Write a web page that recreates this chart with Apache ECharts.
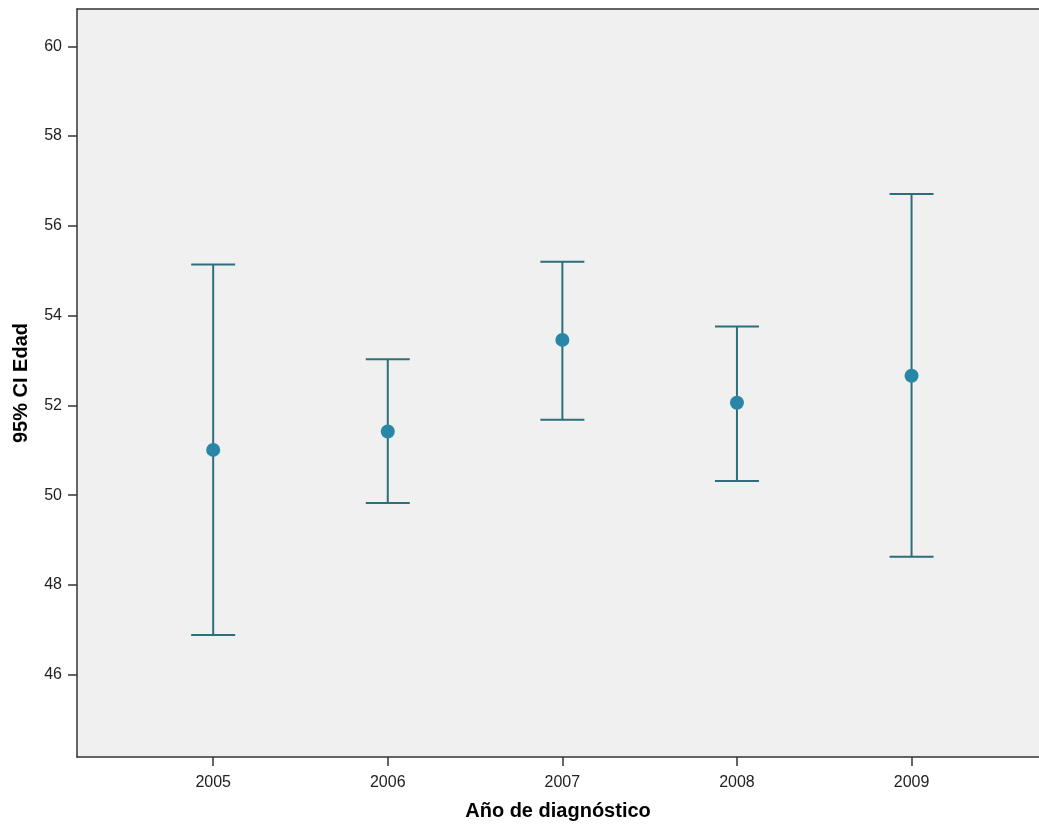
<!DOCTYPE html>
<html>
<head>
<meta charset="utf-8">
<script src="https://cdn.jsdelivr.net/npm/echarts@6/dist/echarts.min.js"></script>
<style>
  html, body { margin: 0; padding: 0; background: #ffffff; }
  #chart { width: 1039px; height: 839px; }
</style>
</head>
<body>
<div id="chart"></div>
<script>
// Years of diagnosis and the 95% confidence interval of age for each one
const years = [2005, 2006, 2007, 2008, 2009];
const meanAge = [51.01, 51.42, 53.46, 52.06, 52.66];
const lowerCI = [46.89, 49.83, 51.68, 50.32, 48.63];
const upperCI = [55.14, 53.03, 55.20, 53.76, 56.71];
const yTicks = [46, 48, 50, 52, 54, 56, 58, 60];

const FONT = '"Liberation Sans", Arial, sans-serif';
const BAR_COLOR = '#2c6e79';
const DOT_COLOR = '#2886a6';
const AXIS_COLOR = '#333333';
const CAP_HALF = 22;

const barData = years.map((y, i) => [y, lowerCI[i], upperCI[i]]);
const dotData = years.map((y, i) => [y, meanAge[i]]);

const chart = echarts.init(document.getElementById('chart'), null, { renderer: 'canvas' });

const axisLineStyle = { color: AXIS_COLOR, width: 1.5 };

chart.setOption({
  animation: false,
  backgroundColor: '#ffffff',
  grid: {
    left: 77, right: 0, top: 9, bottom: 82,
    show: true,
    backgroundColor: '#f0f0f0',
    borderWidth: 0
  },
  xAxis: [
    {
      type: 'value',
      min: 2004.22,
      max: 2009.73,
      name: 'Año de diagnóstico',
      nameLocation: 'middle',
      nameGap: 44,
      nameTextStyle: { fontFamily: FONT, fontSize: 20, fontWeight: 'bold', color: '#000000' },
      axisLine: { show: true, lineStyle: axisLineStyle },
      axisTick: { show: true, length: 9, customValues: years, lineStyle: axisLineStyle },
      axisLabel: {
        customValues: years,
        formatter: v => String(v),
        fontFamily: FONT, fontSize: 16, color: '#222222', margin: 18
      },
      splitLine: { show: false }
    },
    {
      // top edge of the frame
      type: 'value',
      position: 'top',
      min: 2004.22,
      max: 2009.73,
      axisLine: { show: true, onZero: false, lineStyle: axisLineStyle },
      axisTick: { show: false },
      axisLabel: { show: false },
      splitLine: { show: false }
    }
  ],
  yAxis: {
    type: 'value',
    min: 44.17,
    max: 60.83,
    name: '95% CI Edad',
    nameLocation: 'middle',
    nameGap: 46,
    nameRotate: 90,
    nameTextStyle: { fontFamily: FONT, fontSize: 20, fontWeight: 'bold', color: '#000000' },
    axisLine: { show: true, lineStyle: axisLineStyle },
    axisTick: { show: true, length: 9, customValues: yTicks, lineStyle: axisLineStyle },
    axisLabel: {
      customValues: yTicks,
      formatter: v => String(v),
      fontFamily: FONT, fontSize: 16, color: '#222222', margin: 15
    },
    splitLine: { show: false }
  },
  series: [
    {
      type: 'custom',
      name: 'IC 95%',
      data: barData,
      encode: { x: 0, y: [1, 2] },
      renderItem: function (params, api) {
        const x = api.value(0);
        const lo = api.coord([x, api.value(1)]);
        const hi = api.coord([x, api.value(2)]);
        const style = { stroke: BAR_COLOR, lineWidth: 2, fill: null };
        return {
          type: 'group',
          children: [
            { type: 'line', shape: { x1: lo[0], y1: lo[1], x2: hi[0], y2: hi[1] }, style: style },
            { type: 'line', shape: { x1: hi[0] - CAP_HALF, y1: hi[1], x2: hi[0] + CAP_HALF, y2: hi[1] }, style: style },
            { type: 'line', shape: { x1: lo[0] - CAP_HALF, y1: lo[1], x2: lo[0] + CAP_HALF, y2: lo[1] }, style: style }
          ]
        };
      },
      z: 2
    },
    {
      type: 'scatter',
      name: 'Media',
      data: dotData,
      symbol: 'circle',
      symbolSize: 14,
      itemStyle: { color: DOT_COLOR, opacity: 1 },
      z: 3
    }
  ]
});
</script>
</body>
</html>
